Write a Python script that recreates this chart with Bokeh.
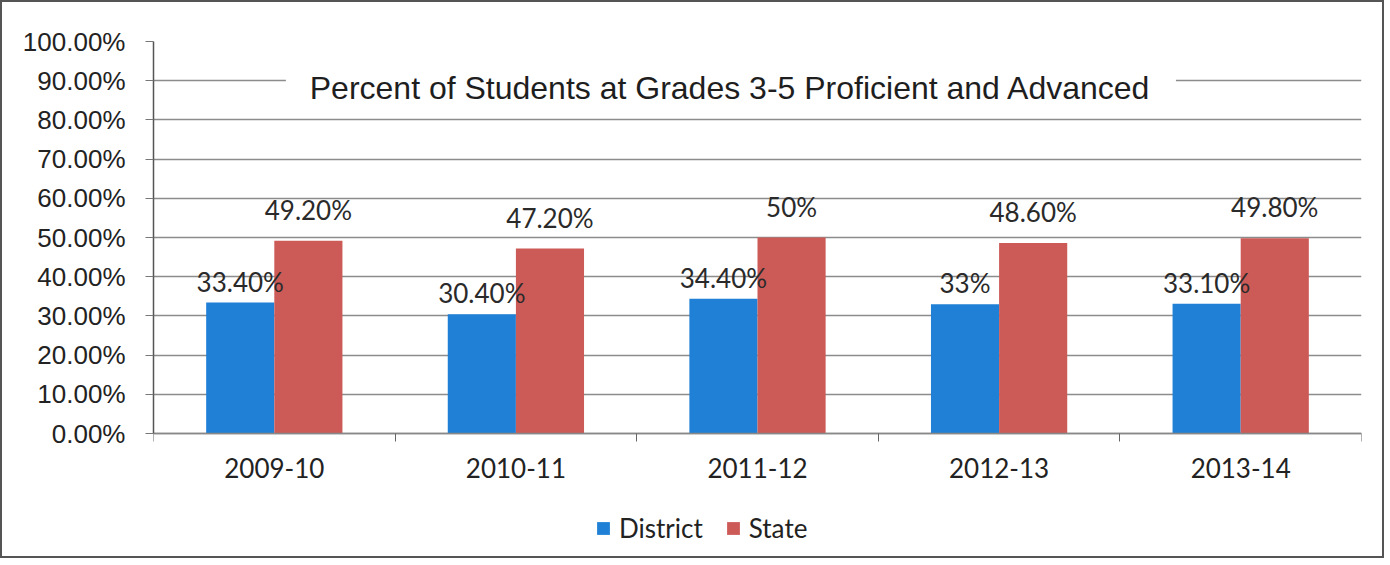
from bokeh.plotting import figure
from bokeh.models import (ColumnDataSource, Range1d, LinearAxis, FixedTicker, NumeralTickFormatter,
                          Label, BoxAnnotation, Legend, LegendItem, CustomJSTickFormatter)
from bokeh.core.properties import value
from bokeh.transform import dodge
from bokeh.embed import file_html
from bokeh.resources import INLINE

# ---- data ----
years = ["2009-10", "2010-11", "2011-12", "2012-13", "2013-14"]
district = [0.334, 0.304, 0.344, 0.33, 0.331]
state = [0.492, 0.472, 0.50, 0.486, 0.498]
district_labels = ["33.40%", "30.40%", "34.40%", "33%", "33.10%"]
state_labels = ["49.20%", "47.20%", "50%", "48.60%", "49.80%"]
y_ticks = [0.0, 0.1, 0.2, 0.3, 0.4, 0.5, 0.6, 0.7, 0.8, 0.9, 1.0]
series_names = ["District", "State"]
title_text = "Percent of Students at Grades 3-5 Proficient and Advanced"

BLUE = "#1f80d6"
RED = "#cc5a57"

n = len(years)
centers = [i + 0.5 for i in range(n)]          # category centres on a 0..n axis
src = ColumnDataSource(dict(xc=centers, district=district, state=state,
                            dlab=district_labels, slab=state_labels))

# the frame extends below 0 so that the legend can sit inside it
p = figure(x_range=Range1d(0, n), y_range=Range1d(-0.3085, 1),
           width=1384, height=558, output_backend="svg", toolbar_location=None,
           x_axis_location=None, y_axis_location="left",
           min_border_left=151, min_border_right=25, min_border_top=39, min_border_bottom=6,
           background_fill_color="white", border_fill_color="white",
           styles={"border": "2px solid #555"})
p.outline_line_color = None

# bars
r_d = p.vbar(x=dodge("xc", -0.141), top="district", width=0.282,
             source=src, fill_color=BLUE, line_color=None)
r_s = p.vbar(x=dodge("xc", 0.141), top="state", width=0.282,
             source=src, fill_color=RED, line_color=None)

# data labels
p.text(x=dodge("xc", -0.141), y="district", text="dlab", source=src,
       text_align="center", text_baseline="bottom", y_offset=-5,
       text_font=value("Lato"), text_font_size="26px", text_color="#2a2a2a")
p.text(x=dodge("xc", 0.141), y="state", text="slab", source=src,
       text_align="center", text_baseline="bottom", y_offset=-15,
       text_font=value("Lato"), text_font_size="26px", text_color="#2a2a2a")

# grid
p.xgrid.grid_line_color = None
p.ygrid.ticker = FixedTicker(ticks=y_ticks)
p.ygrid.grid_line_color = "#8c8c8c"
p.ygrid.grid_line_width = 1.3

# y axis
ya = p.yaxis[0]
ya.ticker = FixedTicker(ticks=y_ticks)
ya.bounds = (y_ticks[0], y_ticks[-1])
ya.formatter = NumeralTickFormatter(format="0.00%")
ya.major_label_text_font = "Liberation Sans"
ya.major_label_text_font_size = "26px"
ya.major_label_text_color = "#222222"
ya.major_tick_out = 8
ya.major_tick_in = 0
ya.minor_tick_line_color = None
ya.major_tick_line_color = "#777777"
ya.axis_line_color = "#555555"
ya.axis_line_width = 1.5
ya.major_label_standoff = 20

# x tick-mark axis (boundaries between categories), drawn at y = 0
xt = LinearAxis(ticker=FixedTicker(ticks=list(range(n + 1))), fixed_location=0,
                formatter=CustomJSTickFormatter(code="return ''"))
xt.major_label_text_font_size = "1px"
xt.major_label_standoff = 0
xt.major_tick_out = 8
xt.major_tick_in = 0
xt.minor_tick_line_color = None
xt.major_tick_line_color = "#666666"
xt.axis_line_color = "#888888"
xt.axis_line_width = 1.3
p.add_layout(xt, "below")

# category label axis, also anchored at y = 0
xc = LinearAxis(ticker=FixedTicker(ticks=centers), fixed_location=0,
                major_label_overrides={c: y for c, y in zip(centers, years)})
xc.axis_line_color = None
xc.major_tick_line_color = None
xc.minor_tick_line_color = None
xc.major_tick_out = 0
xc.major_tick_in = 0
xc.major_label_standoff = 24
xc.major_label_text_font = "Lato"
xc.major_label_text_font_size = "26px"
xc.major_label_text_color = "#222222"
p.add_layout(xc, "below")

# title inside the plot area with a white box behind it
p.add_layout(BoxAnnotation(left=0.548, right=4.232, bottom=0.82, top=0.94,
                           fill_color="white", fill_alpha=1.0, line_color=None))
p.add_layout(Label(x=2.388, y=0.882, text=title_text,
                   text_align="center", text_baseline="middle",
                   text_font="Liberation Sans", text_font_size="32px", text_color="#1e1e1e"))

# legend inside the (extended) frame, below the category labels
legend = Legend(items=[LegendItem(label=series_names[0], renderers=[r_d]),
                       LegendItem(label=series_names[1], renderers=[r_s])],
                orientation="horizontal", location=(442, 10),
                glyph_width=16, glyph_height=16, label_standoff=8, spacing=22,
                padding=0, margin=0, border_line_color=None, background_fill_alpha=0,
                label_text_font="Lato", label_text_font_size="26px", label_text_color="#222222")
p.add_layout(legend, "center")

open("out.html", "w").write(file_html(p, INLINE))
